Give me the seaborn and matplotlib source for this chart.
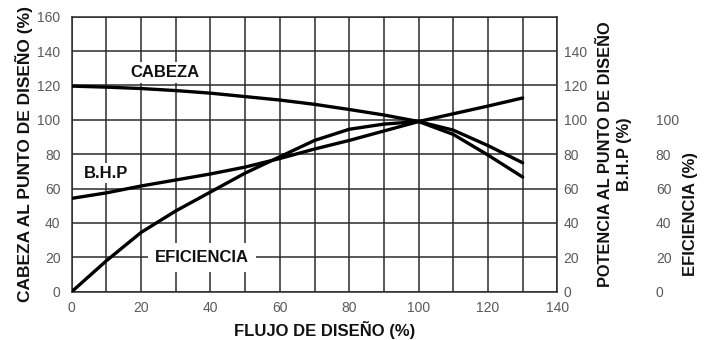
import matplotlib
matplotlib.use("Agg")
import matplotlib.pyplot as plt
import pandas as pd
import seaborn as sns

# flow as % of design flow
flow = [0, 10, 20, 30, 40, 50, 60, 70, 80, 90, 100, 110, 120, 130]
cabeza = [119.6, 119, 118.2, 117, 115.5, 113.5, 111.5, 109, 106, 102.8, 99, 91.5, 79.5, 66.7]
bhp = [54.3, 57.5, 61.5, 65, 68.5, 72.5, 77.5, 83, 88, 93.5, 99, 103.5, 108, 112.7]
eficiencia = [0, 18, 34.5, 47, 58, 69, 78.5, 88, 94.5, 97.5, 99, 94, 85, 75]

x_ticks = list(range(0, 141, 20))
left_ticks = list(range(0, 161, 20))
bhp_ticks = list(range(0, 141, 20))
ef_ticks = list(range(0, 101, 20))

df = pd.DataFrame({"flujo": flow, "cabeza": cabeza, "bhp": bhp, "eficiencia": eficiencia})

sns.set_theme(style="white")
plt.rcParams["font.family"] = ["Liberation Sans", "DejaVu Sans"]

fig = plt.figure(figsize=(7.1, 3.4), dpi=100)
ax = fig.add_axes([0.101, 0.142, 0.684, 0.809])

for col in ["cabeza", "bhp", "eficiencia"]:
    sns.lineplot(data=df, x="flujo", y=col, ax=ax, color="black", lw=2.4,
                 solid_capstyle="round", solid_joinstyle="round", zorder=3)

grid_col = "#2b2b2b"
txt_col = "#111111"
tick_col = "#5a5a5a"
ax.set_xlim(0, 140)
ax.set_ylim(0, 160)
ax.set_xticks(range(0, 141, 10), minor=True)
ax.set_xticks(x_ticks)
ax.set_yticks(left_ticks)
ax.grid(True, which="both", axis="x", color=grid_col, lw=1.1)
ax.grid(True, which="major", axis="y", color=grid_col, lw=1.1)
for s in ax.spines.values():
    s.set_color(grid_col)
    s.set_linewidth(1.1)
ax.tick_params(axis="both", which="both", length=0, labelsize=10, colors=tick_col)
ax.tick_params(axis="y", pad=8)
ax.tick_params(axis="x", pad=6.5)
ax.set_xlabel("FLUJO DE DISEÑO (%)", fontsize=12, fontweight="bold", color=txt_col)
ax.xaxis.set_label_coords(0.52, -0.105)
ax.set_ylabel("CABEZA AL PUNTO DE DISEÑO (%)", fontsize=12.5, fontweight="bold", color=txt_col)
ax.yaxis.set_label_coords(-0.08, 0.5)

box = dict(facecolor="white", edgecolor="none", pad=2)
ax.text(27, 127.5, "CABEZA", fontsize=12, fontweight="bold", ha="center", va="center",
        color=txt_col, bbox=box, zorder=4)
ax.text(10, 69, "B.H.P", fontsize=12, fontweight="bold", ha="center", va="center",
        color=txt_col, bbox=box, zorder=4)
ax.text(37.5, 20, "EFICIENCIA", fontsize=12, fontweight="bold", ha="center", va="center",
        color=txt_col, bbox=dict(facecolor="white", edgecolor="none", pad=5), zorder=4)

# right axis: B.H.P
ax2 = ax.twinx()
ax2.set_ylim(0, 160)
ax2.set_yticks(bhp_ticks)
ax2.tick_params(axis="y", length=0, labelsize=10, colors=tick_col, pad=4.5)
for s in ax2.spines.values():
    s.set_visible(False)
ax2.set_ylabel("POTENCIA AL PUNTO DE DISEÑO\nB.H.P (%)", fontsize=11.8, fontweight="bold",
               color=txt_col, multialignment="center", linespacing=1.3)
ax2.yaxis.set_label_coords(1.084, 0.5)

# second right axis: efficiency
ax3 = ax.twinx()
ax3.set_ylim(0, 160)
ax3.set_yticks(ef_ticks)
ax3.spines["right"].set_position(("axes", 1.19))
for s in ax3.spines.values():
    s.set_visible(False)
ax3.tick_params(axis="y", length=0, labelsize=10, colors=tick_col, pad=4.5)
ax3.set_ylabel("EFICIENCIA (%)", fontsize=12, fontweight="bold", color=txt_col)
ax3.yaxis.set_label_coords(1.258, 0.283)

fig.savefig("out.png", dpi=100)
